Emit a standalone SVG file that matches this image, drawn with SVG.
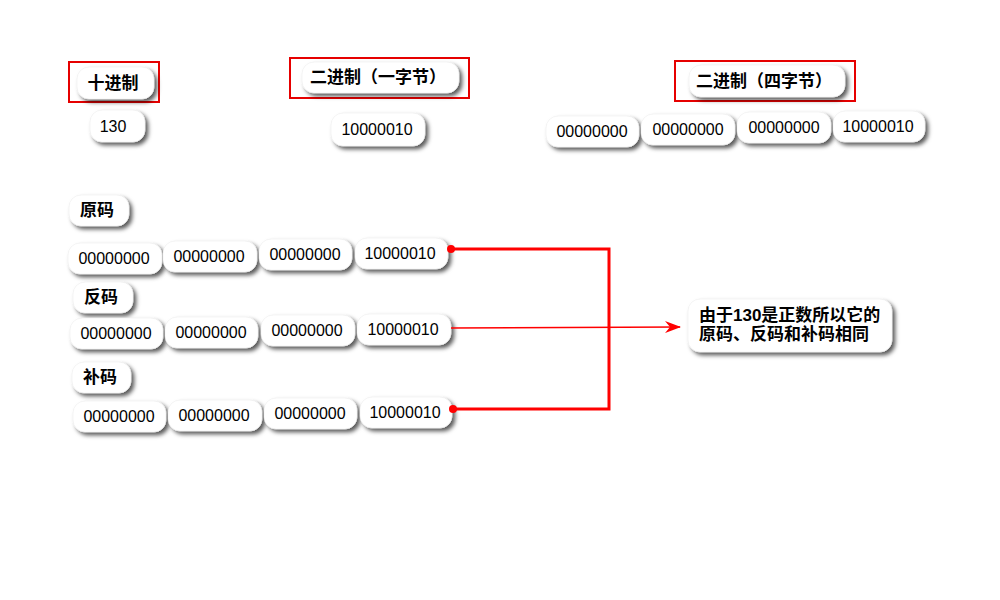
<svg xmlns="http://www.w3.org/2000/svg" width="1000" height="600" viewBox="0 0 1000 600">
<defs>
<filter id="sh" x="-20%" y="-30%" width="150%" height="180%">
<feDropShadow dx="3" dy="3" stdDeviation="2" flood-color="#000" flood-opacity="0.65"/>
</filter>
<marker id="arr" markerWidth="16" markerHeight="12" refX="15" refY="6" orient="auto" markerUnits="userSpaceOnUse">
<path d="M0,0 L16,6 L0,12 L5,6 Z" fill="#ff0000"/>
</marker>
</defs>
<style>
.pill{fill:#fff;stroke:#e8e8e8;stroke-width:0.5;filter:url(#sh)}
.frame{fill:none;stroke:#e60000;stroke-width:2}
.num{font-family:"Liberation Sans",Arial,sans-serif;font-size:16px;fill:#000}
.cn{font-family:"Liberation Sans","Noto Sans CJK SC",sans-serif;font-size:17px;font-weight:bold;fill:#000}
.thick{fill:none;stroke:#ff0000;stroke-width:3}
.thin{fill:none;stroke:#ff0000;stroke-width:1.5}
</style>
<rect width="1000" height="600" fill="#fff"/>

<g id="dec-header">
<rect class="frame" x="69" y="62" width="90" height="40"/>
<rect class="pill" x="77" y="67" width="77" height="32" rx="12"/>
<text class="cn" x="113" y="89" text-anchor="middle">十进制</text>
</g>
<g id="dec-value">
<rect class="pill" x="90" y="110" width="55" height="32" rx="12"/>
<text class="num" x="113" y="132" text-anchor="middle">130</text>
</g>

<g id="bin1-header">
<rect class="frame" x="290" y="58" width="179" height="40"/>
<rect class="pill" x="302" y="62" width="157" height="31" rx="12"/>
<text class="cn" x="378" y="83" text-anchor="middle">二进制（一字节）</text>
</g>
<g id="bin1-value">
<rect class="pill" x="331" y="113" width="94" height="33" rx="12"/>
<text class="num" x="377" y="135" text-anchor="middle">10000010</text>
</g>

<g id="bin4-header">
<rect class="frame" x="675" y="61" width="180" height="40"/>
<rect class="pill" x="689" y="65" width="156" height="32" rx="12"/>
<text class="cn" x="764" y="87" text-anchor="middle">二进制（四字节）</text>
</g>
<g id="bin4-b1"><rect class="pill" x="546" y="116" width="93" height="31" rx="12"/><text class="num" x="592" y="137" text-anchor="middle">00000000</text></g>
<g id="bin4-b2"><rect class="pill" x="641" y="114" width="94" height="31" rx="12"/><text class="num" x="688" y="135" text-anchor="middle">00000000</text></g>
<g id="bin4-b3"><rect class="pill" x="737" y="112" width="94" height="31" rx="12"/><text class="num" x="784" y="133" text-anchor="middle">00000000</text></g>
<g id="bin4-b4"><rect class="pill" x="833" y="111" width="92" height="31" rx="12"/><text class="num" x="878" y="132" text-anchor="middle">10000010</text></g>

<g id="yuanma-label"><rect class="pill" x="69" y="195" width="60" height="31" rx="12"/><text class="cn" x="97" y="216" text-anchor="middle">原码</text></g>
<g id="yuanma-b1"><rect class="pill" x="68" y="243" width="94" height="31" rx="12"/><text class="num" x="114" y="264" text-anchor="middle">00000000</text></g>
<g id="yuanma-b2"><rect class="pill" x="163" y="241" width="94" height="31" rx="12"/><text class="num" x="209" y="262" text-anchor="middle">00000000</text></g>
<g id="yuanma-b3"><rect class="pill" x="259" y="239" width="93" height="31" rx="12"/><text class="num" x="305" y="260" text-anchor="middle">00000000</text></g>
<g id="yuanma-b4"><rect class="pill" x="355" y="238" width="93" height="31" rx="12"/><text class="num" x="400" y="259" text-anchor="middle">10000010</text></g>

<g id="fanma-label"><rect class="pill" x="73" y="282" width="60" height="31" rx="12"/><text class="cn" x="101" y="303" text-anchor="middle">反码</text></g>
<g id="fanma-b1"><rect class="pill" x="70" y="318" width="93" height="31" rx="12"/><text class="num" x="116" y="339" text-anchor="middle">00000000</text></g>
<g id="fanma-b2"><rect class="pill" x="165" y="317" width="93" height="31" rx="12"/><text class="num" x="211" y="338" text-anchor="middle">00000000</text></g>
<g id="fanma-b3"><rect class="pill" x="261" y="315" width="94" height="31" rx="12"/><text class="num" x="307" y="336" text-anchor="middle">00000000</text></g>
<g id="fanma-b4"><rect class="pill" x="357" y="314" width="94" height="31" rx="12"/><text class="num" x="403" y="335" text-anchor="middle">10000010</text></g>

<g id="buma-label"><rect class="pill" x="72" y="362" width="59" height="31" rx="12"/><text class="cn" x="100" y="383" text-anchor="middle">补码</text></g>
<g id="buma-b1"><rect class="pill" x="73" y="401" width="93" height="31" rx="12"/><text class="num" x="119" y="422" text-anchor="middle">00000000</text></g>
<g id="buma-b2"><rect class="pill" x="168" y="400" width="94" height="31" rx="12"/><text class="num" x="214" y="421" text-anchor="middle">00000000</text></g>
<g id="buma-b3"><rect class="pill" x="264" y="398" width="93" height="31" rx="12"/><text class="num" x="310" y="419" text-anchor="middle">00000000</text></g>
<g id="buma-b4"><rect class="pill" x="360" y="397" width="92" height="31" rx="12"/><text class="num" x="405" y="418" text-anchor="middle">10000010</text></g>

<g id="note">
<rect class="pill" x="688" y="299" width="204" height="53" rx="12"/>
<text class="cn" x="699" y="321">由于130是正数所以它的</text>
<text class="cn" x="699" y="340">原码、反码和补码相同</text>
</g>

<g id="connectors">
<path class="thick" d="M451,249 H609 V409 H453"/>
<circle cx="451" cy="249" r="4" fill="#ff0000"/>
<circle cx="453" cy="409" r="4" fill="#ff0000"/>
<path class="thin" d="M451,328 L680,327" marker-end="url(#arr)"/>
</g>
</svg>
